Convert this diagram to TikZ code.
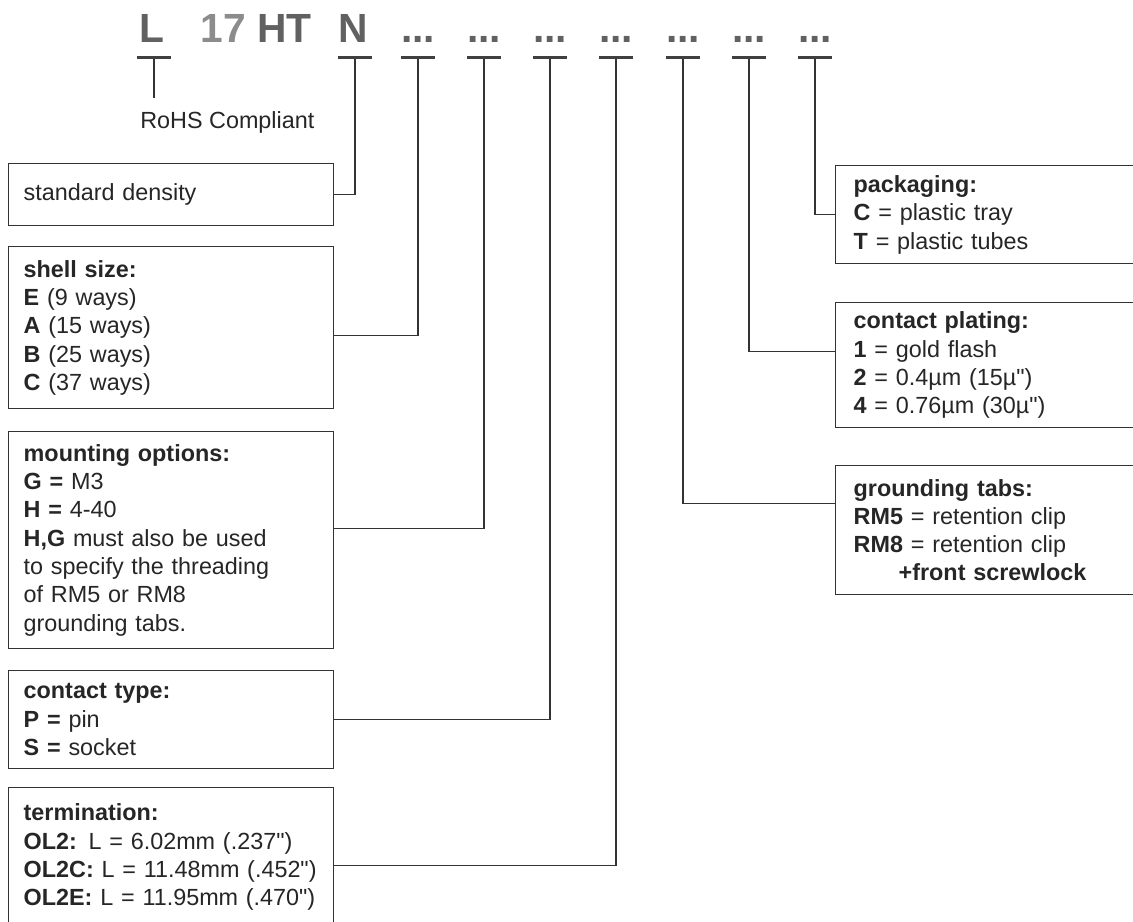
\documentclass[tikz,border=0pt]{standalone}
\usepackage{fontspec}
\setmainfont{Liberation Sans}
\usepackage{tikz}
\usetikzlibrary{positioning}

\newcommand\inch{\XeTeXglyph\XeTeXcharglyph"22\relax}

\tikzset{
  code/.style={font=\fontsize{23.2}{26}\selectfont\bfseries, text=black!62, inner sep=0, anchor=base},
  bar/.style={fill=black!75, minimum width=0.68cm, minimum height=0.06cm, inner sep=0},
  note/.style={font=\fontsize{13.3}{16.1}\selectfont, text=black!85, inner xsep=0, inner ysep=0.26cm, anchor=base west},
  leftbox/.style={draw=black!80, line width=0.8pt, anchor=north west, text width=5.9cm, inner xsep=0.3cm, inner ysep=0, align=left, font=\fontsize{13.3}{16.1}\selectfont, text=black!85},
  rightbox/.style={leftbox, text width=6cm, inner xsep=0.36cm},
  wire/.style={draw=black!80, line width=0.6pt}
}

\begin{document}
\begin{tikzpicture}[x=0.02cm,y=-0.02cm]
        \fill[white] (0,0) rectangle (1133,921);
        \useasboundingbox (0,0) rectangle (1133,921);
        \clip (0,0) rectangle (1133,921);

        \node[code] (codeL) at (152,42) {L};
        \node[code,anchor=base west] (code17) at (200,42) {\textcolor{black!45}{17} HT};
        \node[code] (codeN) at (353,42) {N};
        \node[code] (opt1) at (418,42) {...};
        \node[code] (opt2) at (484,42) {...};
        \node[code] (opt3) at (550,42) {...};
        \node[code] (opt4) at (616,42) {...};
        \node[code] (opt5) at (683,42) {...};
        \node[code] (opt6) at (749,42) {...};
        \node[code] (opt7) at (815,42) {...};

        \node[bar] (barL) at (154,57) {};
        \node[bar] (barN) at (355,57) {};
        \node[bar] (bar1) at (418,57) {};
        \node[bar] (bar2) at (484,57) {};
        \node[bar] (bar3) at (550,57) {};
        \node[bar] (bar4) at (616,57) {};
        \node[bar] (bar5) at (683,57) {};
        \node[bar] (bar6) at (749,57) {};
        \node[bar] (bar7) at (815,57) {};

        \node[note] (rohs) at (140,128) {RoHS Compliant};

        \node[leftbox,minimum height=1.24cm] (density) at (8,163) {standard density};
        \node[leftbox,minimum height=3.24cm] (shell) at (8,246)
          {\textbf{shell size:}\\ \textbf{E} (9 ways)\\ \textbf{A} (15 ways)\\ \textbf{B} (25 ways)\\ \textbf{C} (37 ways)};
        \node[leftbox,minimum height=4.34cm] (mounting) at (8,431)
          {\textbf{mounting options:}\\ \textbf{G =} M3\\ \textbf{H =} 4-40\\ \textbf{H,G} must also be used\\ to specify the threading\\ of RM5 or RM8\\ grounding tabs.};
        \node[leftbox,minimum height=1.96cm] (contact) at (8,670)
          {\textbf{contact type:}\\ \textbf{P =} pin\\ \textbf{S =} socket};
        \node[leftbox,minimum height=2.78cm] (term) at (8,787)
          {\textbf{termination:}\\ \textbf{OL2:} L = 6.02mm (.237\inch)\\ \textbf{OL2C:} L = 11.48mm (.452\inch)\\ \textbf{OL2E:} L = 11.95mm (.470\inch)};
        \node[rightbox,minimum height=1.96cm] (packaging) at (835,165)
          {\textbf{packaging:}\\ \textbf{C} = plastic tray\\ \textbf{T} = plastic tubes};
        \node[rightbox,minimum height=2.5cm] (plating) at (835,302)
          {\textbf{contact plating:}\\ \textbf{1} = gold flash\\ \textbf{2} = 0.4µm (15µ\inch)\\ \textbf{4} = 0.76µm (30µ\inch)};
        \node[rightbox,minimum height=2.58cm] (grounding) at (835,465)
          {\textbf{grounding tabs:}\\ \textbf{RM5} = retention clip\\ \textbf{RM8} = retention clip\\ \hspace*{0.9cm}\textbf{+front screwlock}};

        \draw[wire] (barL) -- (barL |- rohs.north);
        \draw[wire] (barN) |- (density.east);
        \draw[wire] (bar1) |- ([yshift=-0.16cm]shell.east);
        \draw[wire] (bar2) |- ([yshift=0.23cm]mounting.east);
        \draw[wire] (bar3) |- (contact.east);
        \draw[wire] (bar4) |- ([yshift=-0.17cm]term.east);
        \draw[wire] (bar5) |- ([yshift=0.53cm]grounding.west);
        \draw[wire] (bar6) |- ([yshift=0.27cm]plating.west);
        \draw[wire] (bar7) |- (packaging.west);
      \end{tikzpicture}
\end{document}
